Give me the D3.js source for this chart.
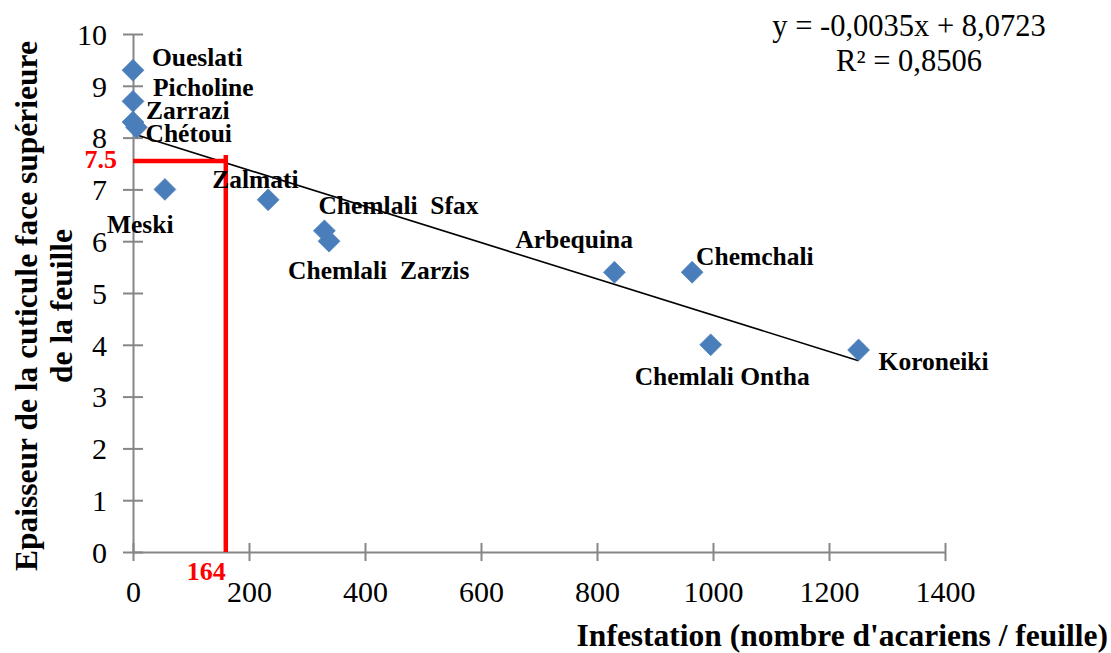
<!DOCTYPE html>
<html>
<head>
<meta charset="utf-8">
<script src="https://cdn.jsdelivr.net/npm/d3@7"></script>
<style>
  body { margin: 0; background: #fff; }
  svg text { font-family: "Liberation Serif", "Times New Roman", Times, "DejaVu Serif", serif; }
</style>
</head>
<body>
<div id="wrapper"></div>
<script>
// data
const varieties = ["Oueslati", "Picholine", "Zarrazi", "Chétoui", "Meski", "Zalmati",
  "Chemlali  Sfax", "Chemlali  Zarzis", "Arbequina", "Chemchali", "Chemlali Ontha", "Koroneiki"]
const infestation = [0, 0, 0, 6, 55, 233, 330, 338, 830, 964, 996, 1251]
const thickness = [9.3, 8.7, 8.3, 8.2, 7.0, 6.8, 6.2, 6.0, 5.4, 5.4, 4.0, 3.9]
const xTicks = [0, 200, 400, 600, 800, 1000, 1200, 1400]
const yTicks = [0, 1, 2, 3, 4, 5, 6, 7, 8, 9, 10]
const slope = -0.0035
const intercept = 8.0723
const markX = 160
const markY = 7.55

// label offsets (dx, dy) relative to each point
const labelOffsets = [[19, -4], [20, -5], [13, -3], [9, 15], [-58, 44], [-56, -12],
  [-6, -17], [-41, 38], [-99, -24], [4, -7], [-76, 40], [20, 20]]

function drawChart() {
  let dimensions = {
    width: 1111,
    height: 653,
    margin: { top: 34, right: 166, bottom: 101, left: 133 },
  }
  dimensions.boundedWidth = dimensions.width - dimensions.margin.left - dimensions.margin.right
  dimensions.boundedHeight = dimensions.height - dimensions.margin.top - dimensions.margin.bottom

  const wrapper = d3.select("#wrapper")
    .append("svg")
      .attr("width", dimensions.width)
      .attr("height", dimensions.height)

  const bounds = wrapper.append("g")
      .attr("transform", `translate(${dimensions.margin.left},${dimensions.margin.top})`)

  const xScale = d3.scaleLinear().domain([0, 1400]).range([0, dimensions.boundedWidth])
  const yScale = d3.scaleLinear().domain([0, 10]).range([dimensions.boundedHeight, 0])

  // axes
  const yAxis = bounds.append("g")
    .call(d3.axisLeft(yScale).tickValues(yTicks).tickSize(0).tickPadding(26).tickFormat(d3.format("d")))
  const xAxis = bounds.append("g")
    .attr("transform", `translate(0,${dimensions.boundedHeight})`)
    .call(d3.axisBottom(xScale).tickValues(xTicks).tickSize(0).tickPadding(29).tickFormat(d3.format("d")))

  yAxis.selectAll(".tick line").attr("x1", -10).attr("x2", 10)
  xAxis.selectAll(".tick line").attr("y1", -9).attr("y2", 9)
  ;[xAxis, yAxis].forEach(a => {
    a.attr("font-family", null)
    a.select(".domain").attr("stroke", "#868686").attr("stroke-width", 2)
    a.selectAll(".tick line").attr("stroke", "#868686").attr("stroke-width", 2)
    a.selectAll(".tick text")
      .attr("font-size", 30)
      .attr("fill", "#000")
  })
  yAxis.selectAll(".tick text").attr("dy", "0.34em")

  // trend line
  const xMax = d3.max(infestation)
  bounds.append("line")
    .attr("x1", xScale(0)).attr("y1", yScale(intercept))
    .attr("x2", xScale(xMax)).attr("y2", yScale(intercept + slope * xMax))
    .attr("stroke", "#000").attr("stroke-width", 1.6)

  // red reading lines
  bounds.append("path")
    .attr("d", `M${xScale(0)},${yScale(markY)} L${xScale(markX)},${yScale(markY)} M${xScale(markX)},${yScale(markY) - 6} L${xScale(markX)},${yScale(0)}`)
    .attr("fill", "none").attr("stroke", "#ff0000").attr("stroke-width", 4.5)
  bounds.append("text")
    .attr("x", xScale(0) - 16).attr("y", yScale(markY) + 7)
    .attr("text-anchor", "end")
    .attr("font-weight", "bold").attr("font-size", 26).attr("fill", "#ff0000")
    .text("7.5")
  bounds.append("text")
    .attr("x", xScale(markX)).attr("y", yScale(0) + 28)
    .attr("text-anchor", "end")
    .attr("font-weight", "bold").attr("font-size", 26).attr("fill", "#ff0000")
    .text("164")

  // points
  const data = varieties.map((v, i) => ({ name: v, x: infestation[i], y: thickness[i], off: labelOffsets[i] }))
  const s = 7.8
  bounds.selectAll(".dot").data(data).join("path")
    .attr("class", "dot")
    .attr("d", d => {
      const cx = xScale(d.x), cy = yScale(d.y)
      return `M${cx},${cy - s * 1.4} L${cx + s * 1.4},${cy} L${cx},${cy + s * 1.4} L${cx - s * 1.4},${cy} Z`
    })
    .attr("fill", "#4a7ebb")
    .attr("stroke", "#4f81bd").attr("stroke-width", 0.8)

  bounds.selectAll(".lbl").data(data).join("text")
    .attr("class", "lbl")
    .attr("x", d => xScale(d.x) + d.off[0])
    .attr("y", d => yScale(d.y) + d.off[1])
    .attr("font-weight", "bold").attr("font-size", 25.5)
    .style("white-space", "pre")
    .text(d => d.name)

  // equation
  wrapper.append("text")
    .attr("x", 909).attr("y", 36)
    .attr("text-anchor", "middle").attr("font-size", 30.5)
    .text("y = -0,0035x + 8,0723")
  wrapper.append("text")
    .attr("x", 909).attr("y", 71)
    .attr("text-anchor", "middle").attr("font-size", 30.5)
    .text("R² = 0,8506")

  // axis titles
  wrapper.append("text")
    .attr("x", 1108).attr("y", 646)
    .attr("text-anchor", "end")
    .attr("font-weight", "bold").attr("font-size", 31.5)
    .text("Infestation (nombre d'acariens / feuille)")

  const yTitle = wrapper.append("g")
    .attr("transform", "translate(0,306) rotate(-90)")
  yTitle.append("text")
    .attr("x", 0).attr("y", 37)
    .attr("text-anchor", "middle")
    .attr("font-weight", "bold").attr("font-size", 31.5)
    .text("Epaisseur de la cuticule face supérieure")
  yTitle.append("text")
    .attr("x", 0).attr("y", 72)
    .attr("text-anchor", "middle")
    .attr("font-weight", "bold").attr("font-size", 31.5)
    .text("de la feuille")
}

drawChart()
</script>
</body>
</html>
